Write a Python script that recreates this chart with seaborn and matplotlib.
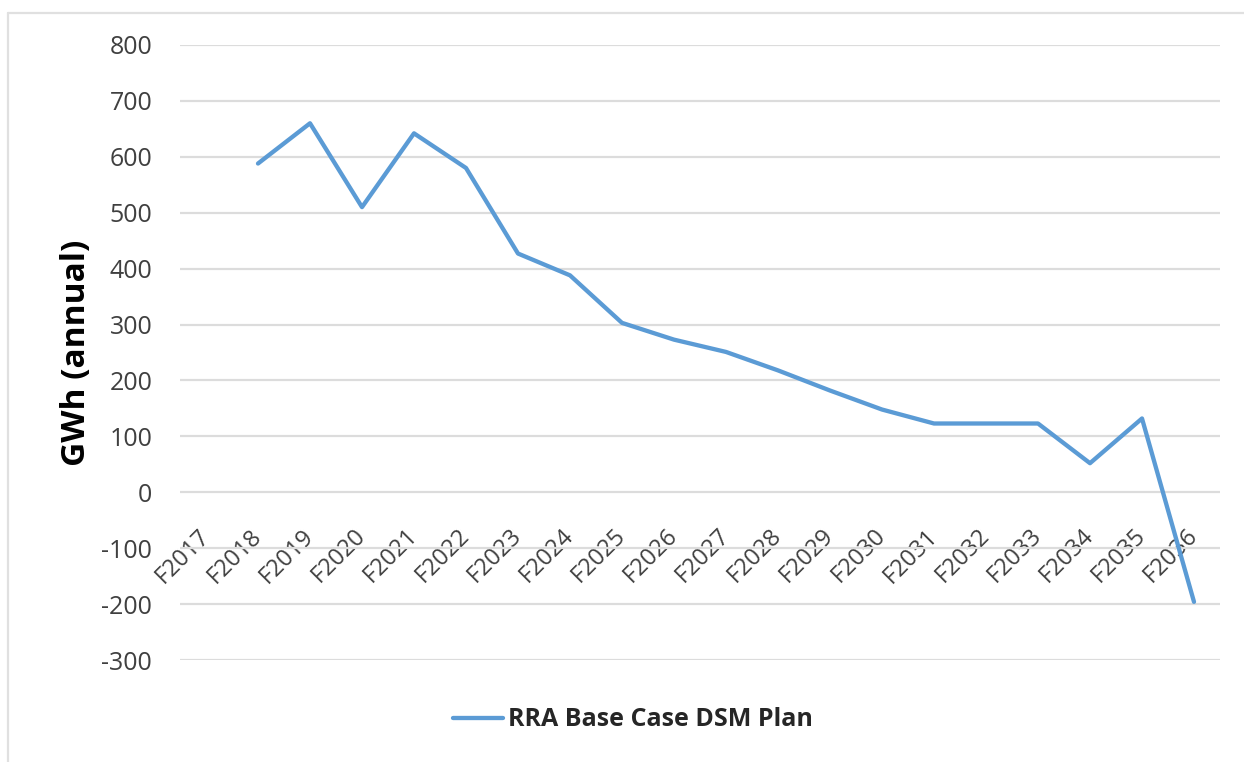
import numpy as np
import pandas as pd
import matplotlib
matplotlib.use("Agg")
import matplotlib.pyplot as plt
from matplotlib.lines import Line2D
import seaborn as sns

# ---- data ----
categories = ["F2017", "F2018", "F2019", "F2020", "F2021", "F2022", "F2023",
              "F2024", "F2025", "F2026", "F2027", "F2028", "F2029", "F2030",
              "F2031", "F2032", "F2033", "F2034", "F2035", "F2036"]
values = [np.nan, 588, 660, 510, 642, 580, 427, 388, 303, 273, 251, 218,
          182, 148, 123, 123, 123, 52, 132, -196]
yticks = [-300, -200, -100, 0, 100, 200, 300, 400, 500, 600, 700, 800]
series_name = "RRA Base Case DSM Plan"
y_label = "GWh (annual)"

df = pd.DataFrame({"idx": np.arange(len(categories)), "val": values})
df = df.dropna()

sns.set_theme(style="white")
plt.rcParams["font.family"] = ["Open Sans", "DejaVu Sans"]

W, H = 1244, 762
fig = plt.figure(figsize=(W / 100, H / 100), dpi=100)
ax = fig.add_axes([180 / W, 1 - 660 / H, 1040 / W, 615 / H])

line_color = "#5B9BD5"
sns.lineplot(data=df, x="idx", y="val", ax=ax, color=line_color,
             linewidth=3.1, legend=False)

for s in ax.spines.values():
    s.set_visible(False)
ax.spines["bottom"].set_position(("data", 0))

ax.set_xlim(-0.5, len(categories) - 0.5)
ax.set_ylim(-300, 800)
ax.set_yticks(yticks)
ax.set_yticklabels([str(t) for t in yticks], fontsize=18, color="#404040")
ax.set_xticks(np.arange(len(categories)))
ax.set_xticklabels(categories, rotation=45, ha="right", va="center",
                   rotation_mode="anchor", fontsize=17, color="#404040")

ax.grid(axis="y", color="#DCDCDC", linewidth=1.6)
ax.grid(axis="x", visible=False)
ax.set_axisbelow(True)
ax.tick_params(axis="x", length=0, pad=29)
ax.tick_params(axis="y", length=0, pad=20)
ax.set_xlabel("")
ax.set_ylabel("")

fig.text(77 / W, 1 - 353 / H, y_label, rotation=90, ha="center", va="center",
         fontsize=24, fontweight="bold", color="black")

handle = Line2D([0], [0], color=line_color, linewidth=3.1)
fig.legend([handle], [series_name], loc="center",
           bbox_to_anchor=(633 / W, 1 - 720 / H), frameon=False,
           handlelength=2.0, handletextpad=0.2, borderpad=0,
           prop={"size": 18, "weight": "bold"})

# outer chart border (top and left edges visible)
fig.add_artist(Line2D([8 / W, 8 / W], [1 - 13 / H, 0], color="#E0E0E0",
                      linewidth=1.6, transform=fig.transFigure))
fig.add_artist(Line2D([8 / W, 1], [1 - 13 / H, 1 - 13 / H], color="#E0E0E0",
                      linewidth=1.6, transform=fig.transFigure))

fig.savefig("out.png", dpi=100, facecolor="white")
